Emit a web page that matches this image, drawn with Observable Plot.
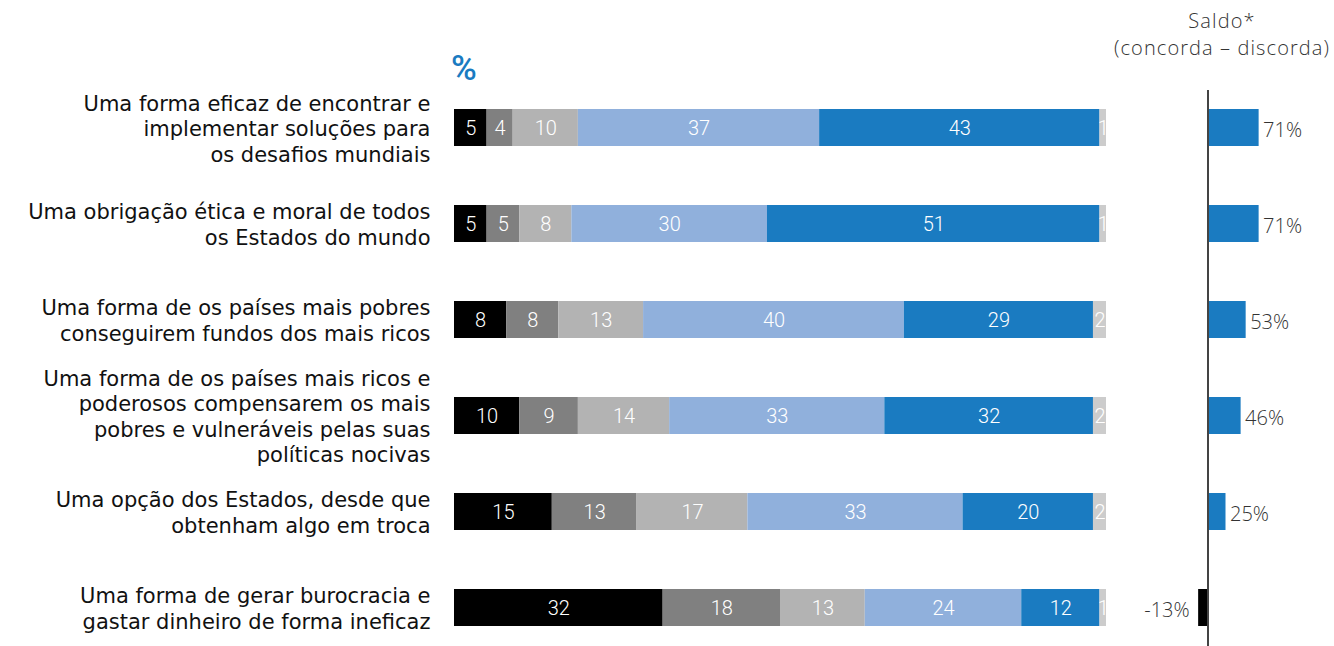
<!DOCTYPE html>
<html><head><meta charset="utf-8">
<script src="https://cdn.jsdelivr.net/npm/d3@7"></script>
<script src="https://cdn.jsdelivr.net/npm/@observablehq/plot@0.6"></script>
<style>
body{margin:0;background:#fff;}
#wrap{position:relative;width:1334px;height:646px;overflow:hidden;background:#fff;}
#main{position:absolute;left:0;top:0;}
#saldo{position:absolute;left:1100px;top:0;}
.hdr{position:absolute;font-family:"Open Sans";font-weight:300;font-size:20px;letter-spacing:1.1px;color:#333;text-align:center;white-space:nowrap;}
#pct{position:absolute;left:451px;top:51px;font-family:Roboto;font-weight:500;font-size:35px;color:#1a7bc1;line-height:1;}
g[aria-label="rotulos"]{letter-spacing:1.9px;}
g[aria-label="saldo-rotulos"]{letter-spacing:1px;}
</style></head><body>
<div id="wrap">
  <div id="main"></div>
  <div id="saldo"></div>
  <div class="hdr" style="left:1102px;width:240px;top:7px;line-height:27px">Saldo*<br>(concorda – discorda)</div>
  <div id="pct">%</div>
</div>
<script>
const items = [
  "Uma forma eficaz de encontrar e\nimplementar soluções para\nos desafios mundiais",
  "Uma obrigação ética e moral de todos\nos Estados do mundo",
  "Uma forma de os países mais pobres\nconseguirem fundos dos mais ricos",
  "Uma forma de os países mais ricos e\npoderosos compensarem os mais\npobres e vulneráveis pelas suas\npolíticas nocivas",
  "Uma opção dos Estados, desde que\nobtenham algo em troca",
  "Uma forma de gerar burocracia e\ngastar dinheiro de forma ineficaz"
];
const respostas = ["Discorda totalmente", "Discorda", "Nem concorda nem discorda", "Concorda", "Concorda totalmente", "Não sabe"];
const discordaTotalmente = [5, 5, 8, 10, 15, 32];
const discorda = [4, 5, 8, 9, 13, 18];
const nemNem = [10, 8, 13, 14, 17, 13];
const concorda = [37, 30, 40, 33, 33, 24];
const concordaTotalmente = [43, 51, 29, 32, 20, 12];
const naoSabe = [1, 1, 2, 2, 2, 1];
const saldo = [71, 71, 53, 46, 25, -13];
const cores = ["#000000", "#808080", "#b3b3b3", "#90b0dc", "#1a7bc1", "#cccccc"];

const series = [discordaTotalmente, discorda, nemNem, concorda, concordaTotalmente, naoSabe];
const tidy = items.flatMap((it, i) => respostas.map((r, j) => ({item: it, resp: r, value: series[j][i]})));
const saldoData = items.map((it, i) => ({item: it, saldo: saldo[i]}));

const yScale = {domain: items, range: [47, 688], padding: 0.618, axis: null};

const main = Plot.plot({
  width: 1110, height: 646,
  marginTop: 0, marginBottom: 0, marginLeft: 0, marginRight: 0,
  style: {background: "transparent", overflow: "visible"},
  x: {domain: [0, 100], range: [454, 1106], axis: null},
  y: yScale,
  color: {domain: respostas, range: cores},
  marks: [
    Plot.barX(tidy, Plot.stackX({x: "value", y: "item", fill: "resp"})),
    Plot.text(tidy, Plot.stackX({x: "value", y: "item", z: "resp", text: d => String(d.value),
      fill: "white", fontSize: 20, fontFamily: "Roboto", fontWeight: 300, dy: 1})),
    Plot.text(items, {x: 0, y: d => d, text: d => d, textAnchor: "end", dx: -24, ariaLabel: "rotulos",
      fontSize: 21, fontFamily: "DejaVu Sans", fontWeight: 400, fill: "#111", lineHeight: 1.215})
  ]
});
document.getElementById("main").appendChild(main);

const sal = Plot.plot({
  width: 234, height: 646,
  marginTop: 90, marginBottom: 0, marginLeft: 0, marginRight: 0,
  style: {background: "transparent", overflow: "visible"},
  x: {domain: [-100, 100], range: [107.5 - 72, 107.5 + 72], axis: null},
  y: yScale,
  marks: [
    Plot.barX(saldoData, {x1: 0, x2: "saldo", y: "item", fill: d => d.saldo < 0 ? "#000000" : "#1a7bc1"}),
    Plot.ruleX([0], {stroke: "#444", strokeWidth: 2}),
    Plot.text(saldoData.filter(d => d.saldo >= 0), {x: "saldo", y: "item", text: d => d.saldo + "%", ariaLabel: "saldo-rotulos",
      textAnchor: "start", dx: 4, dy: 3, fontSize: 20, fontFamily: "Open Sans", fontWeight: 300, fill: "#333"}),
    Plot.text(saldoData.filter(d => d.saldo < 0), {x: "saldo", y: "item", text: d => d.saldo + "%", ariaLabel: "saldo-rotulos",
      textAnchor: "end", dx: -9, dy: 3, fontSize: 20, fontFamily: "Open Sans", fontWeight: 300, fill: "#333"})
  ]
});
document.getElementById("saldo").appendChild(sal);
</script>
</body></html>
